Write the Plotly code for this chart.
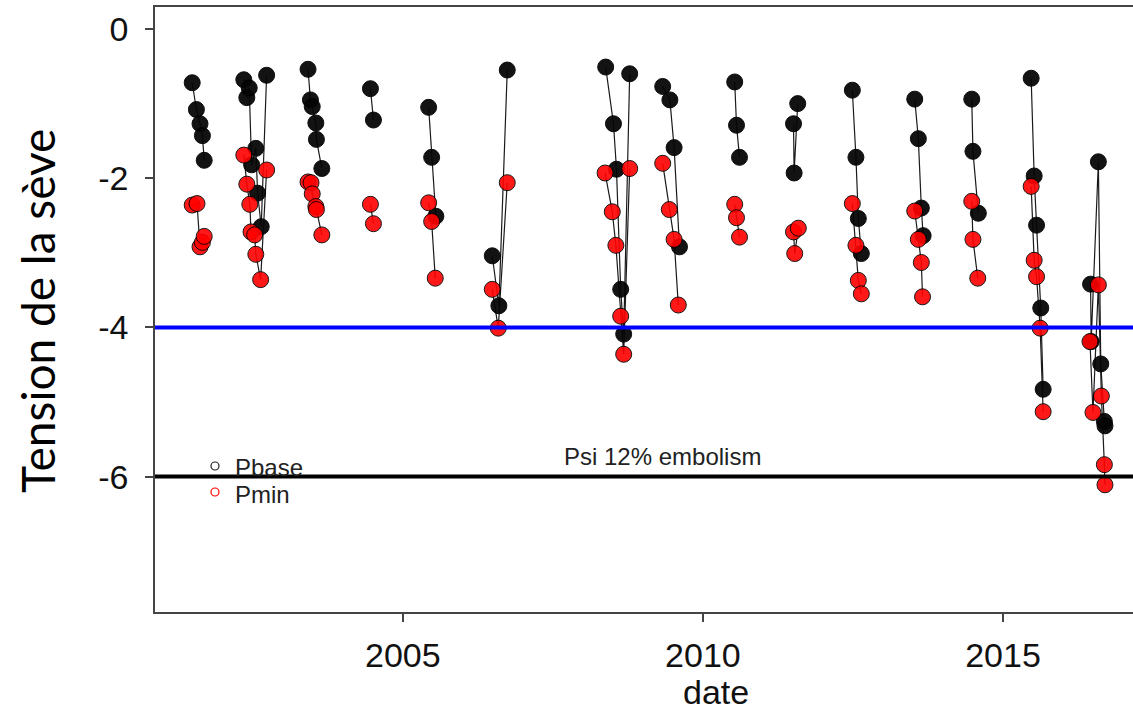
import plotly.graph_objects as go

# ---------------- data ----------------
pbase_date = [2001.49, 2001.56, 2001.62, 2001.66, 2001.69,
              2002.35, 2002.40, 2002.44, 2002.48, 2002.55, 2002.58, 2002.64, 2002.73,
              2003.42, 2003.46, 2003.49, 2003.55, 2003.56, 2003.65,
              2004.46, 2004.51,
              2005.43, 2005.48, 2005.55,
              2006.49, 2006.60, 2006.74,
              2008.38, 2008.51, 2008.56, 2008.63, 2008.68, 2008.78,
              2009.33, 2009.45, 2009.52, 2009.61,
              2010.53, 2010.56, 2010.61,
              2011.51, 2011.52, 2011.58,
              2012.49, 2012.55, 2012.59, 2012.64,
              2013.53, 2013.59, 2013.64, 2013.67,
              2014.48, 2014.50, 2014.59,
              2015.47, 2015.52, 2015.56, 2015.63, 2015.67,
              2016.46, 2016.47, 2016.59, 2016.63, 2016.69, 2016.70]
pbase = [-0.72, -1.08, -1.27, -1.43, -1.76,
         -0.68, -0.92, -0.79, -1.82, -1.60, -2.20, -2.65, -0.62,
         -0.54, -0.95, -1.04, -1.26, -1.48, -1.87,
         -0.80, -1.22,
         -1.05, -1.72, -2.51,
         -3.04, -3.71, -0.55,
         -0.51, -1.27, -1.88, -3.49, -4.09, -0.60,
         -0.77, -0.95, -1.59, -2.92,
         -0.71, -1.29, -1.72,
         -1.27, -1.93, -1.00,
         -0.82, -1.72, -2.54, -3.01,
         -0.94, -1.47, -2.40, -2.77,
         -0.94, -1.64, -2.47,
         -0.66, -1.97, -2.63, -3.74, -4.83,
         -3.42, -4.19, -1.78, -4.49, -5.26, -5.32]

pmin_date = [2001.49, 2001.57, 2001.62, 2001.66, 2001.69,
             2002.35, 2002.40, 2002.45, 2002.47, 2002.53, 2002.55, 2002.63, 2002.73,
             2003.42, 2003.47, 2003.49, 2003.55, 2003.56, 2003.65,
             2004.46, 2004.51,
             2005.43, 2005.48, 2005.54,
             2006.49, 2006.59, 2006.74,
             2008.37, 2008.49, 2008.55, 2008.63, 2008.68, 2008.78,
             2009.33, 2009.44, 2009.52, 2009.59,
             2010.53, 2010.56, 2010.61,
             2011.51, 2011.53, 2011.59,
             2012.49, 2012.55, 2012.59, 2012.64,
             2013.53, 2013.59, 2013.64, 2013.66,
             2014.48, 2014.50, 2014.58,
             2015.47, 2015.52, 2015.56, 2015.62, 2015.67,
             2016.45, 2016.50, 2016.59, 2016.64, 2016.69, 2016.70]
pmin = [-2.36, -2.34, -2.92, -2.86, -2.78,
        -1.69, -2.08, -2.35, -2.72, -2.76, -3.02, -3.36, -1.89,
        -2.05, -2.06, -2.21, -2.38, -2.42, -2.76,
        -2.35, -2.61,
        -2.33, -2.58, -3.34,
        -3.49, -4.01, -2.06,
        -1.93, -2.45, -2.90, -3.85, -4.36, -1.87,
        -1.80, -2.42, -2.82, -3.70,
        -2.35, -2.53, -2.79,
        -2.72, -3.01, -2.67,
        -2.34, -2.90, -3.37, -3.55,
        -2.44, -2.82, -3.13, -3.59,
        -2.31, -2.82, -3.34,
        -2.11, -3.10, -3.32, -4.01, -5.13,
        -4.19, -5.14, -3.43, -4.92, -5.84, -6.11]

ref_lines = [-4, -6]
x_ticks = [2005, 2010, 2015]
y_ticks = [0, -2, -4, -6]

# ---------------- layout geometry ----------------
W, H = 1133, 718
L, T, R, B = 155, 7, 0, 106
PW, PH = W - L - R, H - T - B


def px(xp):
    return (xp - L) / PW


def py(yp):
    return 1 - (yp - T) / PH


def with_breaks(dates, vals, gap=0.4):
    xs, ys = [], []
    for i, (d, v) in enumerate(zip(dates, vals)):
        if i > 0 and d - dates[i - 1] > gap:
            xs.append(None)
            ys.append(None)
        xs.append(d)
        ys.append(v)
    return xs, ys


fig = go.Figure()
bx, by = with_breaks(pbase_date, pbase)
rx, ry = with_breaks(pmin_date, pmin)
line_style = dict(color="#1a1a1a", width=1.2)
fig.add_trace(go.Scatter(x=bx, y=by, mode="lines", line=line_style,
                         showlegend=False, hoverinfo="skip"))
fig.add_trace(go.Scatter(x=rx, y=ry, mode="lines", line=line_style,
                         showlegend=False, hoverinfo="skip"))
fig.add_trace(go.Scatter(x=pbase_date, y=pbase, mode="markers", name="Pbase",
                         marker=dict(size=16, color="#050505", opacity=0.94,
                                     line=dict(color="#000000", width=1)),
                         showlegend=False))
fig.add_trace(go.Scatter(x=pmin_date, y=pmin, mode="markers", name="Pmin",
                         marker=dict(size=16, color="#ff0000", opacity=0.9,
                                     line=dict(color="#000000", width=1)),
                         showlegend=False))

tick_font = dict(family="Liberation Sans, Arial, sans-serif", size=34, color="#111111")
fig.update_xaxes(range=[2000.87, 2017.167], tickvals=x_ticks,
                 ticktext=[str(t) for t in x_ticks],
                 showgrid=False, zeroline=False, showline=True, mirror=True,
                 linecolor="#444444", linewidth=1.5, ticks="outside", ticklen=8,
                 tickcolor="#444444", tickwidth=1.5, tickfont=tick_font,
                 ticklabelstandoff=4)
fig.update_yaxes(range=[-7.815, 0.295], tickvals=y_ticks,
                 ticktext=[str(t) for t in y_ticks],
                 showgrid=False, zeroline=False, showline=True, mirror=False,
                 linecolor="#444444", linewidth=1.5, ticks="outside", ticklen=8,
                 tickcolor="#444444", tickwidth=1.5, tickfont=tick_font,
                 ticklabelstandoff=10)

text_font = dict(family="Liberation Sans, Arial, sans-serif", size=24, color="#222222")
annotations = [
    dict(x=px(662), y=py(456), xref="paper", yref="paper", text="Psi 12% embolism",
         showarrow=False, font=text_font, xanchor="center", yanchor="middle"),
    dict(x=px(233), y=py(467), xref="paper", yref="paper", text="Pbase",
         showarrow=False, font=text_font, xanchor="left", yanchor="middle"),
    dict(x=px(233), y=py(494), xref="paper", yref="paper", text="Pmin",
         showarrow=False, font=text_font, xanchor="left", yanchor="middle"),
    dict(x=px(716), y=py(692), xref="paper", yref="paper", text="date",
         showarrow=False, font=dict(family="Liberation Sans, Arial, sans-serif", size=34,
                                    color="#111111"),
         xanchor="center", yanchor="middle"),
    dict(x=px(37), y=py(311), xref="paper", yref="paper", text="Tension de la sève",
         showarrow=False, textangle=-90,
         font=dict(family="Lato, sans-serif", size=46, color="#000000"),
         xanchor="center", yanchor="middle"),
]
shapes = [
    dict(type="line", xref="paper", yref="y", x0=0, x1=1,
         y0=ref_lines[0], y1=ref_lines[0], line=dict(color="#0000ff", width=4),
         layer="above"),
    dict(type="line", xref="paper", yref="y", x0=0, x1=1,
         y0=ref_lines[1], y1=ref_lines[1], line=dict(color="#000000", width=4),
         layer="above"),
    dict(type="circle", xref="paper", yref="paper",
         x0=px(211), x1=px(219), y0=py(462), y1=py(470),
         line=dict(color="#222222", width=1.2)),
    dict(type="circle", xref="paper", yref="paper",
         x0=px(211), x1=px(219), y0=py(488), y1=py(496),
         line=dict(color="#ff0000", width=1.2)),
]

fig.update_layout(width=W, height=H, margin=dict(l=L, r=R, t=T, b=B),
                  plot_bgcolor="white", paper_bgcolor="white",
                  annotations=annotations, shapes=shapes, showlegend=False)

fig.write_html("out.html")
